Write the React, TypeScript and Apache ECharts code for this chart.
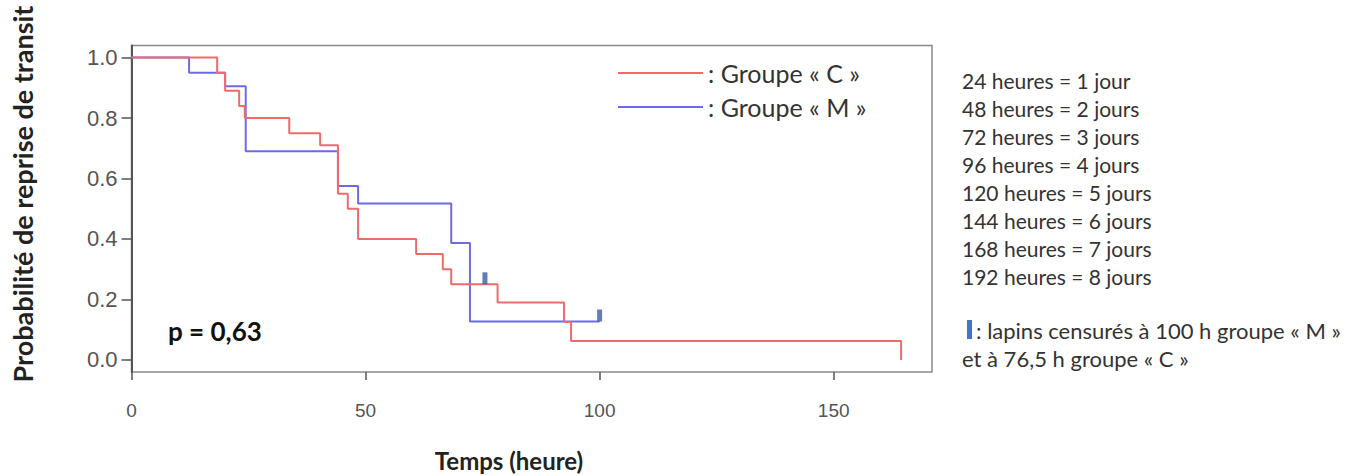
import React, { useEffect, useRef } from "react";
import * as echarts from "echarts";

// Kaplan-Meier step data (time in hours, survival probability)
const hoursC = [0, 18.3, 20, 23, 24.2, 33.7, 40.3, 44.1, 46.2, 48.4, 60.8, 66.5, 68.3, 78.2, 92.4, 93.9, 164.4];
const survC = [1, 0.95, 0.89, 0.84, 0.8, 0.75, 0.71, 0.55, 0.5, 0.4, 0.35, 0.3, 0.25, 0.19, 0.125, 0.0625, 0];

const hoursM = [0, 12.3, 20, 24.4, 44.1, 48.4, 68.3, 72.3, 100];
const survM = [1, 0.95, 0.905, 0.69, 0.575, 0.517, 0.387, 0.127, 0.127];

// censored observations
const censorHours = [75.5, 100];
const censorSurv = [0.25, 0.127];

const xTicks = [0, 50, 100, 150];
const yTicks = [0, 0.2, 0.4, 0.6, 0.8, 1.0];

const seriesNames = ["Groupe « C »", "Groupe « M »"];

const noteLines = [
  "24 heures = 1 jour",
  "48 heures = 2 jours",
  "72 heures = 3 jours",
  "96 heures = 4 jours",
  "120 heures = 5 jours",
  "144 heures = 6 jours",
  "168 heures = 7 jours",
  "192 heures = 8 jours",
];
const censorNote1 = ": lapins censurés à 100 h groupe « M »";
const censorNote2 = "et à 76,5 h groupe « C »";
const pValueText = "p = 0,63";
const xTitle = "Temps (heure)";
const yTitle = "Probabilité de reprise de transit";

const RED = "#f06a6a";
const BLUE = "#6b6be6";
const CENSOR = "#3b5ca6";
const CAL = "Lato, 'Noto Sans', sans-serif";
const ARIAL = "'Liberation Sans', Arial, sans-serif";

export default function App() {
  const ref = useRef<HTMLDivElement>(null);
  useEffect(() => {
    if (!ref.current) return;
    const chart = echarts.init(ref.current, null, { renderer: "svg" });
    const dataC = hoursC.map((h, i) => [h, survC[i]]);
    const dataM = hoursM.map((h, i) => [h, survM[i]]);
    const censorData = censorHours.map((h, i) => [h, censorSurv[i]]);
    chart.setOption({
      animation: false,
      backgroundColor: "#ffffff",
      grid: {
        left: 131.5,
        top: 45.5,
        right: 430,
        bottom: 104,
        show: true,
        borderColor: "#8a8a8a",
        borderWidth: 1.5,
        backgroundColor: "transparent",
      },
      legend: {
        orient: "vertical",
        left: 618,
        top: 60.5,
        padding: 0,
        itemWidth: 85,
        itemHeight: 2,
        itemGap: 9,
        icon: "rect",
        data: seriesNames,
        formatter: (n: string) => ": " + n,
        textStyle: { fontFamily: CAL, fontSize: 25, color: "#333", lineHeight: 25 },
      },
      xAxis: {
        type: "value",
        min: 0,
        max: 171,
        splitLine: { show: false },
        axisLine: { show: false, onZero: false },
        axisTick: {
          show: true,
          length: 8,
          customValues: xTicks,
          lineStyle: { color: "#555", width: 1.5 },
        },
        axisLabel: {
          customValues: xTicks,
          margin: 29,
          fontFamily: ARIAL,
          fontSize: 19,
          color: "#555",
        },
      },
      yAxis: {
        type: "value",
        min: -0.04,
        max: 1.04,
        splitLine: { show: false },
        axisLine: { show: true, onZero: false, lineStyle: { color: "#555", width: 2 } },
        axisTick: {
          show: true,
          length: 10,
          customValues: yTicks,
          lineStyle: { color: "#555", width: 1.5 },
        },
        axisLabel: {
          customValues: yTicks,
          margin: 14,
          fontFamily: ARIAL,
          fontSize: 22,
          color: "#555",
          formatter: (v: number) => v.toFixed(1),
        },
      },
      series: [
        {
          name: seriesNames[1],
          type: "line",
          step: "end",
          data: dataM,
          symbol: "none",
          showSymbol: false,
          lineStyle: { color: BLUE, width: 2 },
          itemStyle: { color: BLUE },
          z: 2,
        },
        {
          name: seriesNames[0],
          type: "line",
          step: "end",
          data: dataC,
          symbol: "none",
          showSymbol: false,
          lineStyle: { color: RED, width: 2 },
          itemStyle: { color: RED },
          z: 3,
        },
        {
          name: "censure",
          type: "scatter",
          data: censorData,
          symbol: "rect",
          symbolSize: [5, 12],
          symbolOffset: [0, "-50%"],
          itemStyle: { color: CENSOR },
          z: 5,
        },
      ],
      graphic: [
        {
          type: "text",
          x: 22,
          y: 194,
          rotation: Math.PI / 2,
          style: {
            text: yTitle,
            fontFamily: CAL,
            fontWeight: "bold",
            fontSize: 27,
            fill: "#222",
            textAlign: "center",
            textVerticalAlign: "middle",
          },
        },
        {
          type: "text",
          x: 509,
          y: 460,
          style: {
            text: xTitle,
            fontFamily: CAL,
            fontWeight: "bold",
            fontSize: 24,
            fill: "#222",
            textAlign: "center",
            textVerticalAlign: "middle",
          },
        },
        {
          type: "text",
          x: 168,
          y: 331,
          style: {
            text: pValueText,
            fontFamily: CAL,
            fontWeight: "bold",
            fontSize: 26,
            fill: "#111",
            textAlign: "left",
            textVerticalAlign: "middle",
          },
        },
        {
          type: "text",
          x: 962,
          y: 66,
          style: {
            text: noteLines.join("\n"),
            fontFamily: CAL,
            fontSize: 21,
            lineHeight: 28,
            fill: "#333",
            textAlign: "left",
            textVerticalAlign: "top",
          },
        },
        {
          type: "rect",
          shape: { x: 967, y: 320, width: 5, height: 19 },
          style: { fill: "#4472c4" },
        },
        {
          type: "text",
          x: 976,
          y: 330,
          style: {
            text: censorNote1,
            fontFamily: CAL,
            fontSize: 22,
            fill: "#333",
            textAlign: "left",
            textVerticalAlign: "middle",
          },
        },
        {
          type: "text",
          x: 962,
          y: 358,
          style: {
            text: censorNote2,
            fontFamily: CAL,
            fontSize: 22,
            fill: "#333",
            textAlign: "left",
            textVerticalAlign: "middle",
          },
        },
      ],
    });
    return () => chart.dispose();
  }, []);
  return (
    <div
      ref={ref}
      style={{ position: "absolute", left: 0, top: 0, width: 1362, height: 476 }}
    />
  );
}
